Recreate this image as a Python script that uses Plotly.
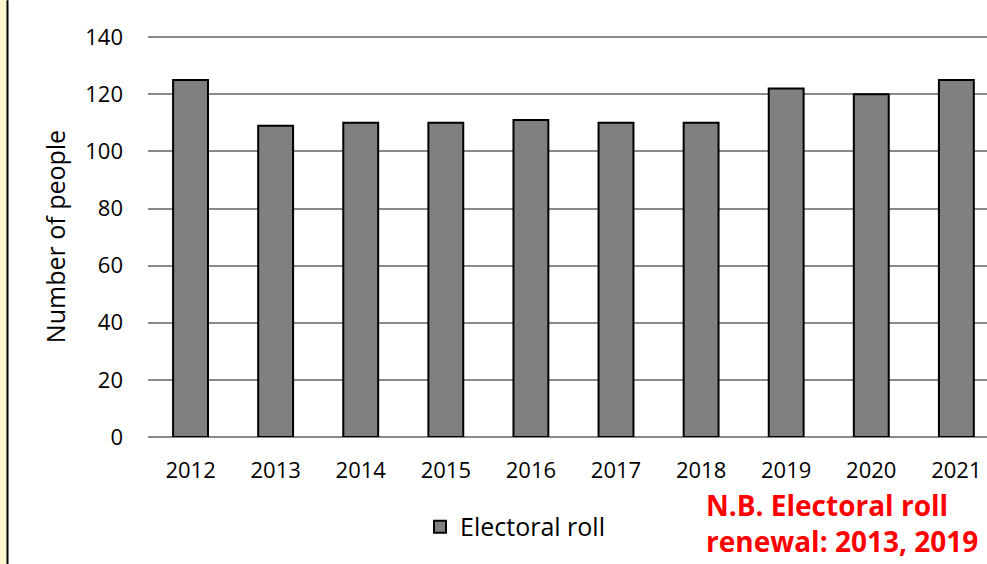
import plotly.graph_objects as go

years = ["2012", "2013", "2014", "2015", "2016", "2017", "2018", "2019", "2020", "2021"]
electoral_roll = [125, 109, 110, 110, 111, 110, 110, 122, 120, 125]
y_ticks = [0, 20, 40, 60, 80, 100, 120, 140]

W, H = 987, 564
Y_MAX = 140.4
L, R, B = 148, 0, 127
ph = 400 * Y_MAX / 140
T = H - B - ph
pw = W - L - R

def px_x(x):
    return (x - L) / pw

def px_y(y):
    return (H - B - y) / ph

font_family = "'Open Sans', Lato, sans-serif"

fig = go.Figure()
fig.add_trace(go.Bar(
    x=list(range(len(years))), y=electoral_roll, name="Electoral roll",
    marker=dict(color="#808080", line=dict(color="#000000", width=2)),
    showlegend=True,
))

fig.update_layout(
    width=W, height=H,
    margin=dict(l=L, r=R, t=T, b=B, pad=0),
    plot_bgcolor="white", paper_bgcolor="white",
    bargap=0.59,
    font=dict(family=font_family, color="#000000", size=22),
    xaxis=dict(
        tickmode="array", tickvals=list(range(len(years))), ticktext=years,
        range=[-0.5, 9.36], showgrid=False, zeroline=False, showline=False,
        ticklabelstandoff=18, tickfont=dict(size=22),
    ),
    yaxis=dict(
        range=[0, Y_MAX], tickvals=y_ticks, showgrid=True, gridcolor="#8a8a8a",
        gridwidth=1.5, zeroline=True, zerolinecolor="#8a8a8a", zerolinewidth=1.5,
        ticklabelstandoff=24, tickfont=dict(size=22),
        title=dict(text="Number of people", font=dict(size=25), standoff=12),
    ),
    legend=dict(
        orientation="h", x=px_x(515), xanchor="center", y=px_y(527), yanchor="middle",
        font=dict(size=25), bgcolor="rgba(0,0,0,0)",
    ),
    shapes=[
        dict(type="rect", xref="paper", yref="paper",
             x0=px_x(0), x1=px_x(7), y0=px_y(H), y1=px_y(0),
             fillcolor="#FFF6CF", line=dict(width=0), layer="below"),
        dict(type="line", xref="paper", yref="paper",
             x0=px_x(7.5), x1=px_x(7.5), y0=px_y(H), y1=px_y(0),
             line=dict(color="#000000", width=2)),
    ],
    annotations=[
        dict(text="<b>N.B. Electoral roll<br>renewal: 2013, 2019</b>",
             xref="paper", yref="paper", x=px_x(704), y=px_y(484),
             xanchor="left", yanchor="top", align="left", showarrow=False,
             font=dict(size=28, color="#FF0000", family=font_family)),
    ],
)

fig.write_html(
    "out.html",
    config={"displayModeBar": False},
    post_script="document.body.style.margin='0px';document.body.style.overflow='hidden';",
)
